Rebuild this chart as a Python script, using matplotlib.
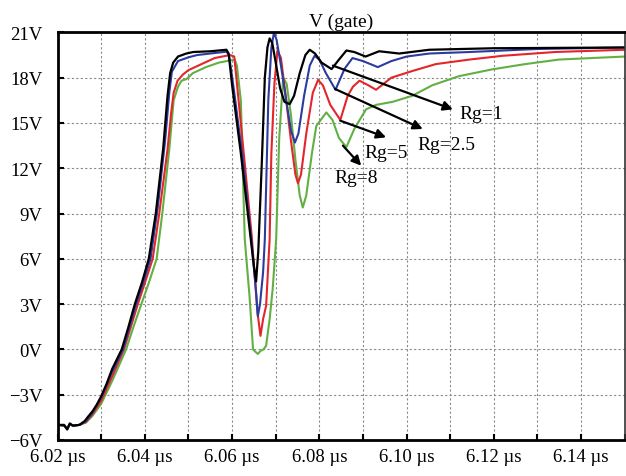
import matplotlib.pyplot as plt
import numpy as np

# gate voltage waveforms (time in us, volts)
t_rg1 = [6.0200, 6.0215, 6.0222, 6.0228, 6.0235, 6.0250, 6.0262, 6.0270, 6.0280, 6.0290,
         6.0300, 6.0312, 6.0325, 6.0347, 6.0362, 6.0377, 6.0393, 6.0409, 6.0425, 6.0442,
         6.0452, 6.0458, 6.0465, 6.0476, 6.0495, 6.0511, 6.0550, 6.0587, 6.0592, 6.0600,
         6.0620, 6.0640, 6.0650, 6.0655, 6.0660, 6.0668, 6.0675, 6.0681, 6.0686, 6.0692,
         6.0700, 6.0710, 6.0720, 6.0732, 6.0742, 6.0755, 6.0768, 6.0778, 6.0790, 6.0805,
         6.0828, 6.0845, 6.0862, 6.0880, 6.0906, 6.0937, 6.0983, 6.1052, 6.1200, 6.1500]
v_rg1 = [-5.0, -5.0, -5.3, -4.9, -5.05, -5.0, -4.75, -4.45, -4.1, -3.65,
         -3.1, -2.3, -1.3, 0.0, 1.45, 3.0, 4.4, 6.0, 9.0, 13.3,
         16.8, 18.3, 19.0, 19.4, 19.6, 19.7, 19.75, 19.85, 19.6, 17.5,
         13.0, 8.0, 5.5, 4.5, 6.5, 12.3, 18.0, 20.0, 20.6, 20.3,
         19.0, 17.3, 16.4, 16.25, 16.8, 18.3, 19.5, 19.85, 19.6, 19.0,
         18.57, 19.2, 19.8, 19.7, 19.4, 19.75, 19.6, 19.85, 19.95, 20.0]

t_rg25 = [6.0200, 6.0215, 6.0222, 6.0228, 6.0235, 6.0250, 6.0265, 6.0280, 6.0300, 6.0325,
          6.0350, 6.0365, 6.0380, 6.0396, 6.0413, 6.0430, 6.0447, 6.0456, 6.0462, 6.0476,
          6.0500, 6.0520, 6.0550, 6.0587, 6.0593, 6.0605, 6.0625, 6.0645, 6.0655, 6.0659,
          6.0664, 6.0671, 6.0675, 6.0683, 6.0690, 6.0696, 6.0702, 6.0712, 6.0725, 6.0735,
          6.0744, 6.0752, 6.0765, 6.0778, 6.0789, 6.0800, 6.0815, 6.0837, 6.0858, 6.0876,
          6.0900, 6.0934, 6.0965, 6.1000, 6.1052, 6.1144, 6.1300, 6.1500]
v_rg25 = [-5.0, -5.05, -5.3, -4.95, -5.05, -5.0, -4.75, -4.2, -3.2, -1.5,
          0.0, 1.5, 3.0, 4.4, 6.0, 9.5, 14.0, 17.0, 18.4, 19.1,
          19.35, 19.5, 19.6, 19.72, 19.5, 17.0, 12.5, 7.0, 3.8, 2.2,
          3.0, 5.1, 7.3, 16.5, 20.0, 21.0, 20.5, 18.8, 16.3, 14.5,
          13.7, 14.3, 16.8, 18.8, 19.45, 19.2, 18.3, 17.2, 18.6, 19.3,
          19.1, 18.7, 19.1, 19.4, 19.6, 19.7, 19.9, 20.0]

t_rg5 = [6.0200, 6.0215, 6.0222, 6.0228, 6.0235, 6.0250, 6.0265, 6.0280, 6.0300, 6.0325,
         6.0352, 6.0368, 6.0384, 6.0400, 6.0418, 6.0433, 6.0452, 6.0460, 6.0466, 6.0475,
         6.0487, 6.0500, 6.0530, 6.0560, 6.0595, 6.0605, 6.0625, 6.0645, 6.0658, 6.0665,
         6.0671, 6.0678, 6.0686, 6.0690, 6.0697, 6.0704, 6.0712, 6.0722, 6.0735, 6.0745,
         6.0751, 6.0758, 6.0770, 6.0785, 6.0797, 6.0808, 6.0825, 6.0848, 6.0865, 6.0877,
         6.0892, 6.0912, 6.0930, 6.0965, 6.1014, 6.1067, 6.1144, 6.1220, 6.1340, 6.1500]
v_rg5 = [-5.0, -5.05, -5.25, -4.95, -5.05, -5.0, -4.8, -4.3, -3.4, -1.8,
         0.0, 1.5, 3.0, 4.4, 6.0, 9.0, 13.25, 15.6, 17.0, 17.8,
         18.2, 18.5, 18.9, 19.3, 19.5, 19.4, 13.5, 7.5, 2.5, 0.9,
         2.0, 2.9, 7.3, 13.0, 17.6, 19.8, 19.3, 17.0, 13.8, 11.6,
         11.0, 11.6, 14.3, 17.0, 17.85, 17.5, 16.2, 15.2, 16.8, 17.4,
         17.8, 17.5, 17.2, 18.0, 18.45, 18.9, 19.2, 19.45, 19.7, 19.85]

t_rg8 = [6.0200, 6.0215, 6.0222, 6.0228, 6.0235, 6.0250, 6.0265, 6.0280, 6.0300, 6.0325,
         6.0357, 6.0374, 6.0392, 6.0409, 6.0427, 6.0440, 6.0456, 6.0466, 6.0476, 6.0484,
         6.0495, 6.0510, 6.0540, 6.0570, 6.0606, 6.0611, 6.0620, 6.0629, 6.0640, 6.0648,
         6.0655, 6.0659, 6.0665, 6.0672, 6.0678, 6.0686, 6.0693, 6.0701, 6.0708, 6.0717,
         6.0725, 6.0735, 6.0745, 6.0755, 6.0762, 6.0770, 6.0783, 6.0793, 6.0816, 6.0830,
         6.0845, 6.0862, 6.0880, 6.0907, 6.0930, 6.0968, 6.1013, 6.1059, 6.1120, 6.1196,
         6.1272, 6.1349, 6.1500]
v_rg8 = [-5.0, -5.05, -5.2, -4.95, -5.05, -5.0, -4.85, -4.4, -3.6, -2.1,
         0.0, 1.5, 3.0, 4.4, 6.0, 9.0, 13.25, 16.5, 17.4, 17.8,
         17.9, 18.3, 18.7, 19.0, 19.2, 18.8, 16.5, 7.3, 3.5, 0.0,
         -0.2, -0.3, -0.1, 0.0, 0.25, 2.0, 4.0, 7.3, 14.0, 18.0,
         17.6, 15.5, 12.6, 10.2, 9.4, 10.2, 13.0, 14.8, 15.7, 15.2,
         14.0, 13.4, 14.6, 15.9, 16.2, 16.4, 16.8, 17.5, 18.1, 18.55,
         18.9, 19.2, 19.4]

labels = ['Rg=1', 'Rg=2.5', 'Rg=5', 'Rg=8']
colors = ['#000000', '#2b3c9e', '#e3262b', '#62b043']
# arrow tail (on the trace), arrow head, label anchor
arrow_tail = [(6.0831, 18.8), (6.0836, 17.25), (6.0848, 15.15), (6.0854, 13.5)]
arrow_head = [(6.1106, 15.9), (6.1037, 14.6), (6.0953, 14.05), (6.0896, 12.17)]
label_pos = [(6.1122, 15.6), (6.1025, 13.6), (6.0903, 13.05), (6.0835, 11.4)]

x_ticks = np.arange(6.02, 6.141, 0.02)
x_grid = np.arange(6.02, 6.151, 0.01)
y_ticks = np.arange(-6, 22, 3)

plt.rcParams['font.family'] = ['Liberation Serif', 'DejaVu Serif']

fig = plt.figure(figsize=(6.26, 4.77), dpi=100)
ax = fig.add_axes([0.092, 0.0755, 0.906, 0.8545])

ax.plot(t_rg8, v_rg8, color=colors[3], lw=1.5)
ax.plot(t_rg5, v_rg5, color=colors[2], lw=1.5)
ax.plot(t_rg25, v_rg25, color=colors[1], lw=1.5)
ax.plot(t_rg1, v_rg1, color=colors[0], lw=1.6)

for tail, head, pos, lab in zip(arrow_tail, arrow_head, label_pos, labels):
    ax.annotate('', xy=head, xytext=tail,
                arrowprops=dict(arrowstyle='-|>', color='black', lw=1.6, mutation_scale=14,
                                shrinkA=0, shrinkB=0))
    ax.text(pos[0], pos[1], lab, fontsize=14, ha='left', va='center')

ax.set_xlim(6.02, 6.15)
ax.set_ylim(-6, 21)
ax.set_xticks(x_grid, minor=True)
ax.set_xticks(x_ticks)
ax.set_xticklabels([f'{v:.2f} \u00b5s' for v in x_ticks])
ax.set_yticks(y_ticks)
ax.set_yticklabels([f'{v}V'.replace('-', '\u2212') for v in y_ticks])

ax.grid(True, which='both', color='#8a8a8a', linestyle=(0, (2, 2)), lw=0.8)
ax.tick_params(axis='both', which='both', direction='in', labelsize=13.5, length=4, width=1.5)
ax.tick_params(axis='x', pad=6)
ax.tick_params(axis='y', pad=11)

for side in ['left', 'bottom', 'top']:
    ax.spines[side].set_linewidth(2)
ax.spines['right'].set_linewidth(1.2)
ax.spines['right'].set_color('#333333')

ax.set_title('V (gate)', fontsize=14, pad=5)

plt.savefig('out.png', dpi=100)
